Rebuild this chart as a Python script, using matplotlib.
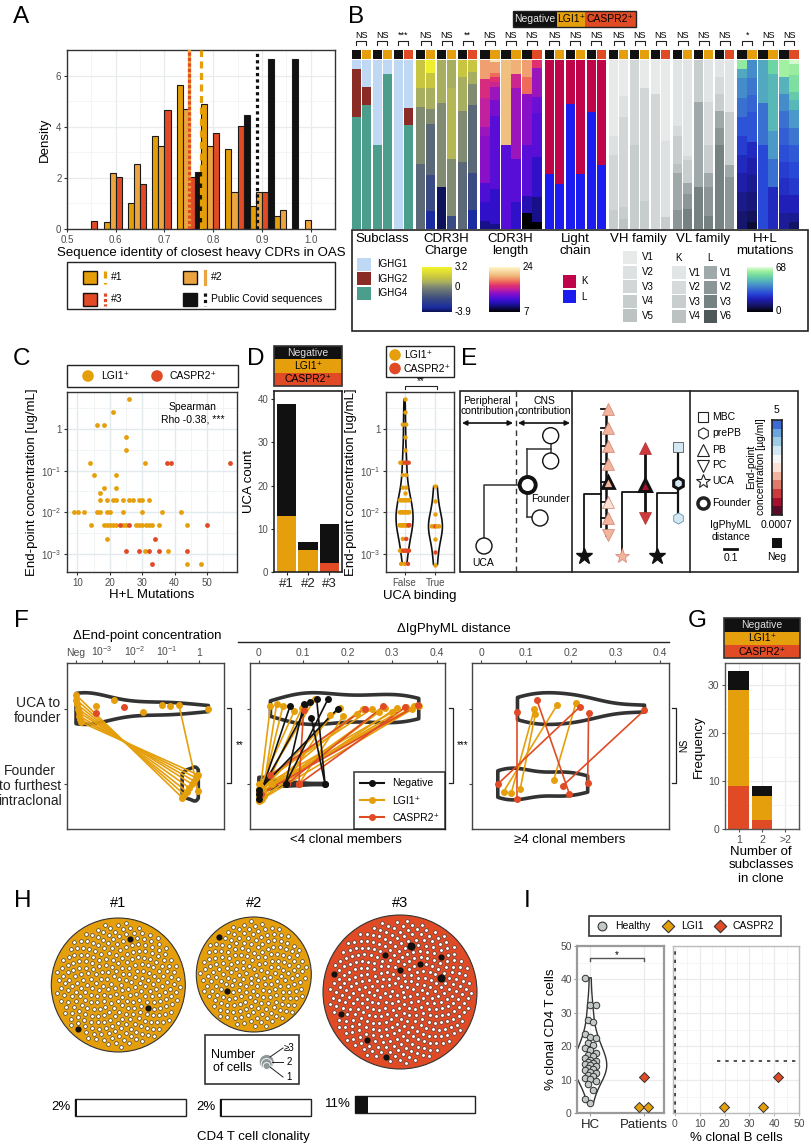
import numpy as np
import matplotlib
matplotlib.use('Agg')
import matplotlib.pyplot as plt
from matplotlib.patches import Rectangle, Circle
from matplotlib.colors import LinearSegmentedColormap, ListedColormap, Normalize
from matplotlib.lines import Line2D
from matplotlib.ticker import FixedLocator, NullFormatter

FONT = ['Liberation Sans', 'DejaVu Sans']
plt.rcParams['font.family'] = FONT
plt.rcParams['mathtext.fontset'] = 'custom'
plt.rcParams['mathtext.rm'] = 'Liberation Sans'
plt.rcParams['mathtext.it'] = 'Liberation Sans:italic'
plt.rcParams['mathtext.bf'] = 'Liberation Sans:bold'
plt.rcParams['axes.unicode_minus'] = False

# ======================= DATA =======================
# --- A: histogram densities (bins of width 0.05) ---
a_bins = [0.55, 0.60, 0.65, 0.70, 0.75, 0.80, 0.85, 0.90, 0.95, 1.00]
a_dens_p1 = [0, 0.27, 1.01, 3.64, 5.63, 4.88, 3.12, 0.88, 0.49, 0]
a_dens_p2 = [0, 2.18, 2.54, 3.25, 4.70, 3.25, 1.46, 1.46, 0.73, 0.36]
a_dens_p3 = [0.30, 2.02, 1.75, 4.64, 2.02, 3.76, 4.04, 1.46, 0, 0]
a_dens_cov = [0, 0, 0, 0, 2.23, 0, 4.44, 6.64, 6.64, 0]
a_median_p1 = 0.775
a_median_p2 = 0.751
a_median_p3 = 0.751
a_median_cov = 0.890
a_legend_labels = ['#1', '#2', '#3', 'Public Covid sequences']

# --- B: stacked proportions, each bar = list of (relative height, value) from top ---
b_titles = ['Subclass', 'CDR3H\nCharge', 'CDR3H\nlength', 'Light\nchain', 'VH family', 'VL family', 'H+L\nmutations']
b_stats = [['NS', 'NS', '***'], ['NS', 'NS', '**'], ['NS', 'NS', 'NS'], ['NS', 'NS', 'NS'],
           ['NS', 'NS', 'NS'], ['NS', 'NS', 'NS'], ['*', 'NS', 'NS']]
b_pair_groups = ['LGI1', 'LGI1', 'CASPR2']
b_subclass = [
    [(0.055, 'IGHG1'), (0.28, 'IGHG2'), (0.665, 'IGHG4')],
    [(0.16, 'IGHG1'), (0.105, 'IGHG2'), (0.735, 'IGHG4')],
    [(0.50, 'IGHG1'), (0.50, 'IGHG4')],
    [(0.083, 'IGHG1'), (0.917, 'IGHG4')],
    [(1.0, 'IGHG1')],
    [(0.286, 'IGHG1'), (0.099, 'IGHG2'), (0.615, 'IGHG4')],
]
b_charge = [
    [(85, 1.6), (57, 0.8), (170, 0.1), (195, -0.9)],
    [(38, 3.0), (47, 1.6), (62, 0.8), (45, 0.1), (153, -0.9), (107, -1.8), (55, -3.2)],
    [(128, 0.8), (254, 0.1), (125, -3.8)],
    [(85, 0.8), (213, 1.1), (170, 0.1), (39, -1.8)],
    [(52, 1.6), (100, 0.8), (153, 0.1), (202, -0.9)],
    [(35, 1.6), (38, 0.8), (62, 0.1), (205, -0.9), (110, -1.8), (57, -3.2)],
]
b_length = [
    [(57, 20), (58, 16.5), (85, 15.5), (28, 14.5), (140, 14), (57, 12), (58, 11), (24, 9.5)],
    [(7, 23), (31, 20), (14, 18.5), (13, 17), (15, 16), (40, 14.5), (47, 13.5), (220, 12.5), (105, 11), (15, 9.5)],
    [(255, 21), (252, 12.5)],
    [(43, 20.5), (42, 16), (213, 14.5), (127, 12.5), (82, 11)],
    [(52, 20), (50, 18.5), (153, 14), (153, 12.5), (50, 10.5), (49, 7)],
    [(25, 17), (85, 14.5), (48, 13), (132, 12.5), (122, 11), (73, 9.5), (22, 7)],
]
b_light = [
    [(0.672, 'K'), (0.328, 'L')], [(0.731, 'K'), (0.269, 'L')], [(0.259, 'K'), (0.741, 'L')],
    [(0.672, 'K'), (0.328, 'L')], [(0.308, 'K'), (0.692, 'L')], [(0.624, 'K'), (0.376, 'L')],
]
b_vh = [
    [(0.45, 'V1'), (0.11, 'V2'), (0.33, 'V3'), (0.11, 'V4')],
    [(0.213, 'V1'), (0.126, 'V2'), (0.53, 'V3'), (0.073, 'V4'), (0.058, 'V5')],
    [(0.50, 'V3'), (0.50, 'V4')],
    [(0.164, 'V1'), (0.67, 'V3'), (0.166, 'V4')],
    [(0.20, 'V1'), (0.80, 'V3')],
    [(0.48, 'V1'), (0.45, 'V2'), (0.07, 'V4')],
]
b_vl = [
    [(0.39, 'KV1'), (0.057, 'KV2'), (0.168, 'KV3'), (0.055, 'KV4'), (0.22, 'LV1'), (0.11, 'LV2')],
    [(0.57, 'KV1'), (0.024, 'KV2'), (0.134, 'KV3'), (0.067, 'LV1'), (0.087, 'LV2'), (0.12, 'LV3')],
    [(0.25, 'KV3'), (0.503, 'LV1'), (0.247, 'LV3')],
    [(0.25, 'KV1'), (0.25, 'KV2'), (0.17, 'KV3'), (0.083, 'LV1'), (0.17, 'LV2'), (0.077, 'LV3')],
    [(0.10, 'KV1'), (0.10, 'KV2'), (0.10, 'KV3'), (0.10, 'LV1'), (0.10, 'LV2'), (0.50, 'LV3')],
    [(0.31, 'KV1'), (0.31, 'KV3'), (0.073, 'LV1'), (0.306, 'LV2')],
]
b_mut = [
    [(28, 60), (27, 45), (60, 40), (55, 35), (57, 30), (58, 26), (55, 22), (55, 18), (57, 14), (55, 11)],
    [(55, 40), (50, 36), (50, 33), (90, 30), (50, 22), (50, 18), (50, 15), (57, 12), (33, 9), (22, 5)],
    [(128, 45), (127, 35), (252, 28)],
    [(42, 54), (170, 48), (86, 42), (84, 35), (125, 22)],
    [(50, 62), (52, 47), (50, 40), (53, 35), (50, 32), (50, 29), (50, 26), (50, 23), (53, 20), (49, 16)],
    [(12, 66), (33, 61), (50, 57), (25, 52), (30, 48), (55, 42), (50, 36), (50, 31), (50, 28), (50, 25), (53, 20), (27, 15), (22, 10)],
]
b_subclass_levels = ['IGHG1', 'IGHG2', 'IGHG4']
b_vh_levels = ['V1', 'V2', 'V3', 'V4', 'V5']
b_vl_k_levels = ['V1', 'V2', 'V3', 'V4']
b_vl_l_levels = ['V1', 'V2', 'V3', 'V6']

# --- C: H+L mutations vs end-point concentration ---
c_lgi_mut = [26.1, 21.0, 16.2, 18.1, 25.0, 25.0, 14.0, 31.0, 15.1, 22.0, 18.1, 22.0, 17.1,
             17.1, 19.1, 21.1, 22.0, 24.1, 26.0, 27.1, 29.0, 30.1, 32.0,
             9.1, 10.1, 12.2, 16.0, 17.1, 19.1, 20.1, 24.1, 30.1, 36.0, 42.0,
             14.1, 18.1, 19.1, 20.1, 21.1, 22.0, 24.1, 25.0, 28.1, 29.0, 30.1, 31.1, 32.0, 33.0, 35.1, 44.0,
             19.0, 31.0, 38.1, 44.0, 48.1]
c_lgi_conc = [5.2, 2.5, 1.27, 1.27, 0.63, 0.31, 0.155, 0.155, 0.078, 0.078, 0.039, 0.039, 0.029,
              0.0195, 0.0195, 0.0195, 0.0195, 0.0195, 0.0195, 0.0195, 0.0195, 0.0195, 0.0195,
              0.01, 0.01, 0.01, 0.01, 0.01, 0.01, 0.01, 0.01, 0.01, 0.01, 0.01,
              0.0049, 0.0049, 0.0049, 0.0049, 0.0049, 0.0049, 0.0049, 0.0049, 0.0049, 0.0049, 0.0049,
              0.0049, 0.0049, 0.0049, 0.0049, 0.0049,
              0.0023, 0.0012, 0.0012, 0.00058, 0.00058]
c_cas_mut = [37.8, 39.0, 57.0, 23.1, 26.0, 50.0, 34.0, 25.0, 29.0, 32.0, 35.1, 44.0, 33.0]
c_cas_conc = [0.155, 0.155, 0.155, 0.0049, 0.0049, 0.0049, 0.0023, 0.0012, 0.0012, 0.0012, 0.0012, 0.0012, 0.00058]
c_rho_text = 'Spearman\nRho -0.38, ***'

# --- D: UCA counts and UCA binding ---
d_groups = ['#1', '#2', '#3']
d_neg = [26, 2, 9]
d_lgi = [13, 5, 0]
d_cas = [0, 0, 2]
d_true_conc = [0.042, 0.019, 0.0091, 0.0046, 0.0046, 0.0046, 0.0046, 0.0046, 0.0023, 0.0011, 0.00055]
d_true_group = ['L', 'L', 'L', 'L', 'L', 'C', 'L', 'L', 'L', 'C', 'L']

# --- F: paired deltas ---
f1_lgi_top_x = [-3.80, -3.80, -3.78, -3.75, -3.72, -3.70, -3.68, -3.65, -0.62]
f1_lgi_top_y = [2.18, 2.12, 2.06, 2.00, 1.95, 1.90, 1.86, 1.82, 2.05]
f1_lgi_bot_x = [-0.52, -0.45, -0.38, -0.30, -0.22, -0.15, -0.08, -0.02, -0.03]
f1_lgi_bot_y = [0.82, 0.86, 0.90, 0.95, 1.00, 1.04, 1.08, 1.12, 0.91]
f1_lgi_solo_x = [-3.17, -2.62, -1.74, -1.15, -0.89, 0.29]
f1_lgi_solo_y = [2.03, 2.11, 1.95, 2.05, 2.04, 1.99]
f1_cas_solo_x = [-2.33, -3.17]
f1_cas_solo_y = [2.02, 1.94]

f2_neg_top_x = [0.070, 0.101, 0.115, 0.130, 0.156, 0.178, 0.118]
f2_neg_top_y = [2.03, 2.06, 2.09, 2.13, 2.13, 2.00, 1.88]
f2_neg_bot_x = [0.000, 0.060, 0.000, 0.149, 0.060, 0.000, 0.149]
f2_neg_bot_y = [0.80, 1.00, 0.87, 1.00, 1.00, 0.92, 1.00]
f2_lgi_top_x = [0.026, 0.054, 0.097, 0.126, 0.183, 0.234, 0.255, 0.283, 0.310, 0.332,
                0.350, 0.360, 0.300, 0.220, 0.160, 0.080, 0.040, 0.190, 0.270, 0.345]
f2_lgi_top_y = [2.03, 2.03, 2.01, 2.13, 2.01, 2.00, 2.00, 2.01, 2.01, 2.02,
                2.03, 2.04, 1.95, 1.93, 1.92, 1.97, 2.06, 1.90, 1.96, 1.99]
f2_lgi_bot_x = [0.000, 0.004, 0.008, 0.000, 0.010, 0.003, 0.000, 0.006, 0.012, 0.002,
                0.000, 0.030, 0.005, 0.000, 0.060, 0.000, 0.009, 0.090, 0.001, 0.004]
f2_lgi_bot_y = [0.78, 0.82, 0.86, 0.90, 0.94, 0.98, 1.00, 0.80, 0.84, 0.88,
                0.92, 1.00, 0.96, 0.85, 1.00, 0.93, 0.89, 1.00, 0.83, 0.79]
f2_cas_top_x = [0.101, 0.239, 0.280, 0.359, 0.330]
f2_cas_top_y = [1.98, 2.00, 2.03, 2.05, 2.02]
f2_cas_bot_x = [0.090, 0.026, 0.063, 0.004, 0.090]
f2_cas_bot_y = [1.00, 1.12, 1.00, 0.87, 1.00]

f3_lgi_top_x = [0.119, 0.121, 0.212, 0.170]
f3_lgi_top_y = [2.00, 1.93, 2.08, 2.05]
f3_lgi_bot_x = [0.067, 0.087, 0.162, 0.050]
f3_lgi_bot_y = [0.88, 0.93, 1.05, 0.90]
f3_cas_top_x = [0.124, 0.081, 0.220, 0.365, 0.240]
f3_cas_top_y = [2.12, 1.95, 2.02, 1.98, 1.94]
f3_cas_bot_x = [0.197, 0.081, 0.037, 0.183, 0.238]
f3_cas_bot_y = [0.87, 0.80, 1.00, 0.98, 1.02]
f_stats = ['**', '***', 'NS']

# --- G: subclasses per clone ---
g_cats = ['1', '2', '>2']
g_cas = [9, 2, 0]
g_lgi = [20, 5, 0]
g_neg = [4, 2, 0]

# --- H: CD4 T cell clonality ---
h_labels = ['#1', '#2', '#3']
h_singletons = [290, 215, 370]
h_expanded = [[2, 2, 2], [2, 2], [3, 2, 2, 2, 2, 3, 2, 2, 2, 2]]
h_clonality = [0.02, 0.02, 0.11]
h_pct_labels = ['2%', '2%', '11%']

# --- I: clonal CD4 T cells ---
i_hc = [40.5, 32.5, 32.3, 27.8, 27.2, 23.6, 22.7, 22.4, 21.0, 20.5, 19.6, 18.8, 18.0, 17.5, 17.0,
        16.6, 16.0, 15.6, 15.4, 15.0, 14.6, 14.3, 14.0, 13.6, 13.3, 12.8, 12.3, 12.0, 11.5, 11.0,
        10.6, 10.2, 9.6, 8.8, 7.0, 4.2, 3.2]
i_lgi_t = [1.8, 1.9]
i_cas_t = [10.8]
i_lgi_b = [19.8, 35.4]
i_cas_b = [41.6]
i_hc_median = 15.6

# ======================= COLOURS =======================
C_NEG = '#111111'
C_LGI = '#E69F0C'
C_CAS = '#E04B26'
C_P1 = '#E59E08'
C_P2 = '#EBA440'
subclass_colors = {'IGHG1': '#BFD8F4', 'IGHG2': '#8A2B25', 'IGHG4': '#4B9E8B'}
light_colors = {'K': '#C0044A', 'L': '#1C1CF0'}
vh_colors = {'V1': '#E8EAEA', 'V2': '#DEE1E1', 'V3': '#D2D6D6', 'V4': '#C7CCCC', 'V5': '#BDC2C2'}
vl_colors = {'KV1': '#E2E5E5', 'KV2': '#D6DADA', 'KV3': '#C8CDCD', 'KV4': '#BCC2C2',
             'LV1': '#A0A9A9', 'LV2': '#8C9696', 'LV3': '#768181', 'LV6': '#4E5858'}

def anchored_cmap(name, vmin, vmax, pairs):
    return LinearSegmentedColormap.from_list(name, [((v - vmin) / (vmax - vmin), c) for v, c in pairs])

charge_cmap = anchored_cmap('charge', -3.9, 3.2, [(-3.9, '#0A1050'), (-3.2, '#1A2CA0'), (-1.8, '#3A4A82'),
                                                   (-0.9, '#5A6878'), (0, '#7A8575'), (0.8, '#A8AE60'),
                                                   (1.6, '#C8C640'), (3.2, '#F5F52A')])
charge_norm = Normalize(-3.9, 3.2)
length_cmap = anchored_cmap('length', 7, 24, [(7, '#000000'), (9.5, '#18108A'), (11, '#3010C8'), (12.5, '#5A0ED8'),
                                              (14, '#8A10C8'), (15.5, '#C020A0'), (17, '#E03070'), (18.5, '#EE6A5A'),
                                              (20, '#F0A070'), (21, '#F0C080'), (24, '#FFF5C8')])
length_norm = Normalize(7, 24)
mut_cmap = anchored_cmap('mut', 0, 68, [(0, '#000000'), (7, '#10104A'), (14, '#1A1A8A'), (20, '#2020B8'),
                                       (28, '#2848D8'), (35, '#3A70D0'), (42, '#4A98C8'), (48, '#58B8B8'),
                                       (55, '#70D8A0'), (62, '#A0F0A0'), (68, '#E8FFE0')])
mut_norm = Normalize(0, 68)
e_colors = ['#5A0A28', '#A5102C', '#CC3A3E', '#E07A6A', '#F2B49C', '#FBE2D6', '#F7F7F7',
            '#D4E8F4', '#9CCCE6', '#6BA5DE', '#3E6AD4']

# ======================= FIGURE =======================
W, H = 812, 1146
fig = plt.figure(figsize=(W / 100, H / 100), dpi=100)

def axpx(x0, y0, x1, y1, **kw):
    return fig.add_axes([x0 / W, 1 - y1 / H, (x1 - x0) / W, (y1 - y0) / H], **kw)

ov = fig.add_axes([0, 0, 1, 1], zorder=10)
ov.set_xlim(0, W)
ov.set_ylim(H, 0)
ov.axis('off')
ov.patch.set_visible(False)

def T(x, y, s, **kw):
    kw.setdefault('ha', 'center')
    kw.setdefault('va', 'center')
    kw.setdefault('fontsize', 7.5)
    return ov.text(x, y, s, **kw)

def R(x, y, w, h, **kw):
    kw.setdefault('lw', 0)
    ov.add_patch(Rectangle((x, y), w, h, **kw))

def style(ax, sc='#333333', lw=1.0, ls=7, lc='#4D4D4D'):
    for sp in ax.spines.values():
        sp.set_color(sc)
        sp.set_linewidth(lw)
    ax.tick_params(labelsize=ls, colors=sc, labelcolor=lc, length=2.5, width=0.8, pad=1.5)
    ax.tick_params(which='minor', length=0)

for letter, x, y in [('A', 13, 23.3), ('B', 348, 23.3), ('C', 13, 365), ('D', 247, 365), ('E', 461, 365),
                     ('F', 14, 626.7), ('G', 688, 626.7), ('H', 14, 906.7), ('I', 524, 906.7)]:
    ov.text(x, y, letter, fontsize=17.5, ha='left', va='baseline')

# ======================= A =======================
axA = axpx(67, 50, 335, 229)
bins = np.array(a_bins)
w = 0.0125
for dens, col, off in [(a_dens_p1, C_P1, -1.5), (a_dens_p2, C_P2, -0.5),
                       (a_dens_p3, C_CAS, 0.5), (a_dens_cov, C_NEG, 1.5)]:
    d = np.array(dens, float)
    m = d > 0
    axA.bar(bins[m] + off * w, d[m], width=w, color=col, edgecolor='#1a1a1a', linewidth=0.8, zorder=2)
axA.axvline(a_median_p2, color=C_P2, lw=2.3, zorder=3)
axA.axvline(a_median_p3, color=C_CAS, lw=2.3, dashes=(1.0, 0.7), zorder=4)
axA.axvline(a_median_p1, color=C_P1, lw=2.3, dashes=(2.2, 1.4), zorder=4)
axA.axvline(a_median_cov, color=C_NEG, lw=2.3, dashes=(1.0, 1.0), zorder=4)
axA.set_xlim(0.5, 1.05)
axA.set_ylim(0, 7.0)
axA.set_xticks(np.round(np.arange(0.5, 1.01, 0.1), 1))
axA.set_xticklabels(['0.5', '0.6', '0.7', '0.8', '0.9', '1.0'])
axA.set_yticks([0, 2, 4, 6])
axA.xaxis.set_minor_locator(FixedLocator(np.arange(0.55, 1.05, 0.1)))
axA.yaxis.set_minor_locator(FixedLocator([1, 3, 5]))
axA.grid(True, which='major', color='#E8ECEC', lw=0.9)
axA.grid(True, which='minor', color='#F2F4F4', lw=0.6)
axA.set_axisbelow(True)
style(axA)
axA.set_xlabel('Sequence identity of closest heavy CDRs in OAS', fontsize=9.5, labelpad=2)
axA.set_ylabel('Density', fontsize=9.5, labelpad=4)

R(67, 262, 268, 47, fc='none', ec='#222222', lw=1.0)
for (sx, sy, col, lstyle, lab) in [(83, 271, C_P1, dict(dashes=(2.2, 1.4)), a_legend_labels[0]),
                                   (183, 271, C_P2, dict(), a_legend_labels[1]),
                                   (83, 293, C_CAS, dict(dashes=(1.0, 0.7)), a_legend_labels[2]),
                                   (183, 293, C_NEG, dict(dashes=(1.0, 1.0)), a_legend_labels[3])]:
    R(sx, sy, 14, 13, fc=col, ec='#111111', lw=1.0)
    ov.plot([sx + 22, sx + 22], [sy, sy + 13], color=col, lw=2.3, **lstyle)
    T(sx + 28, sy + 6.5, lab, ha='left', fontsize=7.5)

# ======================= B =======================
axB = axpx(351, 60, 800, 229)
axB.set_xlim(351, 800)
axB.set_ylim(1, 0)
axB.axis('off')

def b_left(g, k):
    p, b = divmod(k, 2)
    return 351.7 + g * 64.3 + p * 21 + b * 10

b_vars = [(b_subclass, lambda v: subclass_colors[v]),
          (b_charge, lambda v: charge_cmap(charge_norm(v))),
          (b_length, lambda v: length_cmap(length_norm(v))),
          (b_light, lambda v: light_colors[v]),
          (b_vh, lambda v: vh_colors[v]),
          (b_vl, lambda v: vl_colors[v]),
          (b_mut, lambda v: mut_cmap(mut_norm(v)))]
for g, (bars, colfn) in enumerate(b_vars):
    for k, segs in enumerate(bars):
        hgt = np.array([s[0] for s in segs], float)
        hgt = hgt / hgt.sum()
        bottoms = np.concatenate([[0], np.cumsum(hgt)[:-1]])
        cols = [colfn(s[1]) for s in segs]
        axB.bar([b_left(g, k)] * len(hgt), hgt, bottom=bottoms, width=9.3, align='edge',
                color=cols, linewidth=0)
    for p in range(3):
        l0, l1 = b_left(g, 2 * p), b_left(g, 2 * p + 1)
        R(l0, 49.5, 9.3, 9.3, fc=C_NEG)
        R(l1, 49.5, 9.3, 9.3, fc=C_LGI if b_pair_groups[p] == 'LGI1' else C_CAS)
        c0, c1 = l0 + 4.65, l1 + 4.65
        ov.plot([c0, c0, c1, c1], [44.5, 41, 41, 44.5], color='#222222', lw=0.8)
        T((c0 + c1) / 2, 35.5, b_stats[g][p], fontsize=6.5)

# header legend
R(513, 11, 44, 16, fc=C_NEG)
R(557, 11, 28, 16, fc=C_LGI)
R(585, 11, 51, 16, fc=C_CAS)
R(513, 11, 123, 16, fc='none', ec='#222222', lw=1.0)
T(535, 19, 'Negative', color='#E6E6E6', fontsize=7.5)
T(571, 19, 'LGI1⁺', fontsize=7.5)
T(610.5, 19, 'CASPR2⁺', fontsize=7.5)

# legend box
R(352, 229.5, 456, 101.5, fc='none', ec='#222222', lw=1.2)
for cx, title in zip([382, 446, 510, 575, 638, 703, 765], b_titles):
    T(cx, 233, title, va='top', fontsize=9.5, linespacing=1.05)
for i, lev in enumerate(b_subclass_levels):
    yc = 264 + i * 14.5
    R(357, yc - 6.5, 14, 13, fc=subclass_colors[lev])
    T(377, yc, lev, ha='left', fontsize=7)

def cbar(x0, y0, x1, y1, cmap):
    ax = axpx(x0, y0, x1, y1)
    ax.imshow(np.linspace(0, 1, 256)[:, None], aspect='auto', cmap=cmap, origin='lower', extent=[0, 1, 0, 1])
    ax.axis('off')
    return ax

cbar(422, 267, 452, 312, charge_cmap)
for v, lab in [(3.2, '3.2'), (0, '0'), (-3.9, '-3.9')]:
    T(455, 267 + (3.2 - v) / 7.1 * 45, lab, ha='left', fontsize=7)
cbar(489, 267, 520, 312, length_cmap)
T(523, 267, '24', ha='left', fontsize=7)
T(523, 312, '7', ha='left', fontsize=7)
for i, lev in enumerate(['K', 'L']):
    yc = 281.5 + i * 15
    R(563, yc - 6.5, 13, 13, fc=light_colors[lev])
    T(581, yc, lev, ha='left', fontsize=7)
for i, lev in enumerate(b_vh_levels):
    yc = 257.5 + i * 14.6
    R(623, yc - 6.5, 14, 13, fc=vh_colors[lev])
    T(642, yc, lev, ha='left', fontsize=7)
T(679, 258, 'K', fontsize=7)
T(710, 258, 'L', fontsize=7)
for i, lev in enumerate(b_vl_k_levels):
    yc = 272.5 + i * 14.6
    R(672, yc - 6.5, 14, 13, fc=vl_colors['K' + lev])
    T(689, yc, lev, ha='left', fontsize=7)
for i, lev in enumerate(b_vl_l_levels):
    yc = 272.5 + i * 14.6
    R(704, yc - 6.5, 13, 13, fc=vl_colors['L' + lev])
    T(720, yc, lev, ha='left', fontsize=7)
cbar(747, 267, 773, 312, mut_cmap)
T(776, 268, '68', ha='left', fontsize=7)
T(776, 311, '0', ha='left', fontsize=7)

# ======================= C =======================
axC = axpx(67, 392, 237, 572)
axC.scatter(c_lgi_mut, c_lgi_conc, s=12, color=C_LGI, lw=0, zorder=3)
axC.scatter(c_cas_mut, c_cas_conc, s=12, color=C_CAS, lw=0, zorder=3)
axC.set_yscale('log')
axC.set_ylim(3.7e-4, 7.7)
axC.set_xlim(6.8, 59.3)
axC.set_yticks([1e-3, 1e-2, 1e-1, 1])
axC.set_yticklabels(['10$^{-3}$', '10$^{-2}$', '10$^{-1}$', '1'])
axC.yaxis.set_minor_locator(FixedLocator([10 ** -3.5, 10 ** -2.5, 10 ** -1.5, 10 ** -0.5, 10 ** 0.5]))
axC.yaxis.set_minor_formatter(NullFormatter())
axC.set_xticks([10, 20, 30, 40, 50])
axC.xaxis.set_minor_locator(FixedLocator([15, 25, 35, 45, 55]))
axC.grid(True, which='major', color='#E2EAED', lw=1.0)
axC.grid(True, which='minor', color='#EDF2F4', lw=0.6)
axC.set_axisbelow(True)
style(axC)
axC.set_xlabel('H+L Mutations', fontsize=9.5, labelpad=1)
axC.set_ylabel('End-point concentration [ug/mL]', fontsize=9.5, labelpad=2)
T(193, 402, c_rho_text, fontsize=7.5, linespacing=1.25, va='top')
R(67, 365, 171, 22, fc='none', ec='#222222', lw=1.0)
ov.add_patch(Circle((88, 376), 5.8, fc=C_LGI, lw=0))
T(101, 376, 'LGI1⁺', ha='left')
ov.add_patch(Circle((157, 376), 5.8, fc=C_CAS, lw=0))
T(170, 376, 'CASPR2⁺', ha='left')

# ======================= D (left) =======================
axD = axpx(274, 391, 342, 572)
xd = np.arange(1, 4)
axD.bar(xd, d_cas, width=0.9, color=C_CAS)
axD.bar(xd, d_lgi, width=0.9, bottom=d_cas, color=C_LGI)
axD.bar(xd, d_neg, width=0.9, bottom=np.array(d_cas) + np.array(d_lgi), color=C_NEG)
axD.set_xlim(0.4, 3.6)
axD.set_ylim(0, 41.9)
axD.set_xticks(xd)
axD.set_xticklabels(d_groups, fontsize=9.5, color='#222222')
axD.set_yticks([0, 10, 20, 30, 40])
style(axD, sc='#222222', lw=1.2)
axD.tick_params(axis='x', labelsize=9.5, labelcolor='#222222')
axD.set_ylabel('UCA count', fontsize=9.5, labelpad=2)

def header_box(x, y, w):
    R(x, y, w, 13.3, fc=C_NEG)
    R(x, y + 13.3, w, 13.3, fc=C_LGI)
    R(x, y + 26.6, w, 13.4, fc=C_CAS)
    R(x, y, w, 40, fc='none', ec='#333333', lw=1.2)
    T(x + w / 2, y + 6.8, 'Negative', color='#DDDDDD', fontsize=7.5)
    T(x + w / 2, y + 20, 'LGI1⁺', fontsize=7.5)
    T(x + w / 2, y + 33.3, 'CASPR2⁺', fontsize=7.5)

header_box(274, 346, 68)

# ======================= D (right) =======================
axV = axpx(386, 392, 454, 572)
false_conc = np.array(c_lgi_conc + c_cas_conc)
false_grp = ['L'] * len(c_lgi_conc) + ['C'] * len(c_cas_conc)
vp = axV.violinplot([np.log10(false_conc), np.log10(d_true_conc)], positions=[1, 2],
                    widths=[0.55, 0.45], showextrema=False)
for b in vp['bodies']:
    b.set_facecolor('none')
    b.set_edgecolor('#111111')
    b.set_linewidth(1.2)
    b.set_alpha(1)

def dot_rows(ax, vals, grps, center, maxw):
    lv = np.round(np.log10(np.array(vals)), 3)
    for u in np.unique(lv):
        idx = [i for i in range(len(lv)) if lv[i] == u]
        n = len(idx)
        step = min(0.11, maxw / max(n, 1))
        xs = center + (np.arange(n) - (n - 1) / 2) * step
        cols = [C_LGI if grps[i] == 'L' else C_CAS for i in idx]
        ax.scatter(xs, [u] * n, s=10, c=cols, lw=0, zorder=3)

dot_rows(axV, false_conc, false_grp, 1, 0.34)
dot_rows(axV, d_true_conc, d_true_group, 2, 0.3)
axV.set_xlim(0.4, 2.6)
axV.set_ylim(np.log10(3.7e-4), np.log10(7.7))
axV.set_yticks([-3, -2, -1, 0])
axV.set_yticklabels(['10$^{-3}$', '10$^{-2}$', '10$^{-1}$', '1'])
axV.yaxis.set_minor_locator(FixedLocator([-3.5, -2.5, -1.5, -0.5, 0.5]))
axV.set_xticks([1, 2])
axV.set_xticklabels(['False', 'True'])
axV.xaxis.set_minor_locator(FixedLocator([1.5]))
axV.grid(True, which='major', color='#E2EAED', lw=1.0)
axV.grid(True, which='minor', color='#EDF2F4', lw=0.6)
axV.set_axisbelow(True)
style(axV)
axV.set_xlabel('UCA binding', fontsize=9.5, labelpad=2)
axV.set_ylabel('End-point concentration [ug/mL]', fontsize=9.5, labelpad=2)
ov.plot([405.5, 405.5, 436.6, 436.6], [389, 385.5, 385.5, 389], color='#222222', lw=0.8)
T(421, 381.5, '**', fontsize=7)
R(386, 346, 68, 31, fc='none', ec='#222222', lw=1.0)
ov.add_patch(Circle((395, 355), 5.8, fc=C_LGI, lw=0))
T(404, 355, 'LGI1⁺', ha='left')
ov.add_patch(Circle((395, 368.5), 5.8, fc=C_CAS, lw=0))
T(404, 368.5, 'CASPR2⁺', ha='left')

# ======================= E (schematic) =======================
R(460, 391, 338, 181, fc='none', ec='#222222', lw=1.2)
ov.plot([572, 572], [391, 572], color='#222222', lw=1.2)
ov.plot([690, 690], [391, 572], color='#222222', lw=1.2)
ov.plot([515.7, 515.7], [391, 572], color='#333333', lw=1.0, dashes=(4, 3))
T(487, 406, 'Peripheral\ncontribution', fontsize=7.5, linespacing=1.1)
T(544, 406, 'CNS\ncontribution', fontsize=7.5, linespacing=1.1)
ov.annotate('', xy=(462, 423), xytext=(513, 423),
            arrowprops=dict(arrowstyle='<|-|>', lw=1.2, color='#111111', mutation_scale=7, shrinkA=0, shrinkB=0))
ov.annotate('', xy=(518, 423), xytext=(570, 423),
            arrowprops=dict(arrowstyle='<|-|>', lw=1.2, color='#111111', mutation_scale=7, shrinkA=0, shrinkB=0))
lk = dict(color='#333333', lw=1.1, zorder=2)
ov.plot([484, 484, 527.7], [538, 485, 485], **lk)
ov.plot([527, 527], [449, 516.7], **lk)
ov.plot([527, 550.7, 550.7], [449, 449, 436], **lk)
ov.plot([550.7, 550.7], [449, 462], **lk)
ov.plot([527, 540], [516.7, 516.7], **lk)
for (cx, cy, lw_) in [(484, 546, 1.0), (527.7, 485, 2.8), (550.7, 435.7, 1.0), (550.7, 461, 1.0), (540, 518, 1.0)]:
    ov.add_patch(Circle((cx, cy), 8, fc='white', ec='#111111', lw=lw_, zorder=3))
T(550, 499, 'Founder', fontsize=7.5)
T(483, 563, 'UCA', fontsize=7.5)

tk = dict(color='#111111', lw=1.3, zorder=2)
ov.plot([584, 584, 601], [556, 494, 494], **tk)
ov.plot([601, 601], [432, 527], **tk)
ov.plot([606, 606], [409, 535], color='#111111', lw=1.8, zorder=2)
tri_y = [409, 428, 446, 464, 482, 502, 518]
tri_c = [e_colors[4], e_colors[4], e_colors[4], e_colors[4], e_colors[4], e_colors[5], e_colors[4]]
for yy, cc in zip(tri_y, tri_c):
    ov.plot([601, 606], [yy, yy], **tk)
    bold = (yy == 482)
    ov.plot(608, yy, marker='^', ms=8, mfc=cc, mec='#111111' if bold else '#D08070',
            mew=2.0 if bold else 0.5, zorder=4)
ov.plot(608, 535, marker='v', ms=8, mfc=e_colors[4], mec='#D08070', mew=0.5, zorder=4)
ov.plot(584, 556, marker='*', ms=12, color='#111111', zorder=4)
ov.plot([622, 622, 645], [556, 491.7, 491.7], **tk)
ov.plot([645, 645], [448, 518], color='#111111', lw=2.0, zorder=2)
ov.plot(645, 448, marker='^', ms=8, mfc=e_colors[2], mec='#B03030', mew=0.5, zorder=4)
ov.plot(645, 485, marker='^', ms=9, mfc=e_colors[1], mec='#111111', mew=2.2, zorder=4)
ov.plot(645, 518, marker='v', ms=8, mfc=e_colors[2], mec='#B03030', mew=0.5, zorder=4)
ov.plot(622, 556, marker='*', ms=11, mfc=e_colors[4], mec='#D08070', mew=0.5, zorder=4)
ov.plot([657, 657, 677.7], [556, 492.7, 492.7], **tk)
ov.plot([677.7, 677.7], [447, 518], color='#111111', lw=1.6, zorder=2)
ov.plot(677.7, 447, marker='s', ms=7, mfc=e_colors[7], mec='#555555', mew=0.6, zorder=4)
ov.plot(677.7, 483, marker='h', ms=8, mfc=e_colors[7], mec='#111111', mew=2.2, zorder=4)
ov.plot(677.7, 518, marker='h', ms=8, mfc=e_colors[7], mec='#6090B0', mew=0.6, zorder=4)
ov.plot(657, 556, marker='*', ms=12, color='#111111', zorder=4)

for mk, yy, lab, ms_, mew_ in [('s', 416.7, 'MBC', 7, 0.8), ('h', 433, 'prePB', 8, 0.8), ('^', 450, 'PB', 8, 0.8),
                              ('v', 465.5, 'PC', 8, 0.8), ('*', 481, 'UCA', 10, 0.8), ('o', 503, 'Founder', 8, 2.5)]:
    ov.plot(703, yy, marker=mk, ms=ms_, mfc='white', mec='#222222', mew=mew_, zorder=4)
    T(712, yy, lab, ha='left', fontsize=7.5)
T(731, 531, 'IgPhyML\ndistance', fontsize=7.5, linespacing=1.15)
ov.plot([724, 737], [549, 549], color='#111111', lw=2.0)
T(730.5, 558, '0.1', fontsize=7.5)
axE = axpx(771.7, 420, 781.7, 515)
axE.imshow(np.arange(len(e_colors))[:, None], aspect='auto', cmap=ListedColormap(e_colors),
           origin='lower', extent=[0, 1, 0, 1])
axE.set_xticks([])
axE.set_yticks([])
for sp in axE.spines.values():
    sp.set_linewidth(1.2)
    sp.set_color('#222222')
T(776.7, 410, '5', fontsize=7.5)
T(776.7, 525, '0.0007', fontsize=7.5)
T(751, 467, 'End-point', rotation=90, fontsize=7.5)
T(761, 467, 'concentration [µg/ml]', rotation=90, fontsize=7.5)
R(771.7, 538, 10, 10, fc=C_NEG)
T(776.7, 557, 'Neg', fontsize=7.5)

# ======================= F =======================
def fviolin(ax, data, pos, width):
    v = ax.violinplot([data], positions=[pos], widths=width, showextrema=False, orientation='horizontal')
    for b in v['bodies']:
        b.set_facecolor('none')
        b.set_edgecolor('#333333')
        b.set_linewidth(2.6)
        b.set_alpha(1)
        b.set_zorder(1)

def fpairs(ax, tx, ty, bx, by, col):
    for a, b_, c, d in zip(tx, ty, bx, by):
        ax.plot([a, c], [b_, d], color=col, lw=1.2, zorder=2)
    ax.plot(tx, ty, 'o', ms=4, color=col, zorder=3, lw=0)
    ax.plot(bx, by, 'o', ms=4, color=col, zorder=3, lw=0)

axF1 = axpx(67.3, 663.3, 224.2, 829.3)
axF2 = axpx(250, 663.3, 445.4, 829.3)
axF3 = axpx(472.3, 663.3, 669.1, 829.3)

fviolin(axF1, f1_lgi_top_x + f1_lgi_solo_x + f1_cas_solo_x, 2, 0.42)
fviolin(axF1, f1_lgi_bot_x, 1, 0.45)
fpairs(axF1, f1_lgi_top_x, f1_lgi_top_y, f1_lgi_bot_x, f1_lgi_bot_y, C_LGI)
axF1.plot(f1_lgi_solo_x, f1_lgi_solo_y, 'o', ms=4, color=C_LGI, zorder=3)
axF1.plot(f1_cas_solo_x, f1_cas_solo_y, 'o', ms=4, color=C_CAS, zorder=3)
axF1.set_xlim(-4.07, 0.78)
axF1.xaxis.tick_top()
axF1.set_xticks([-3.8, -3, -2, -1, 0])
axF1.set_xticklabels(['Neg', '10$^{-3}$', '10$^{-2}$', '10$^{-1}$', '1'])

fviolin(axF2, f2_neg_top_x + f2_lgi_top_x + f2_cas_top_x, 2, 0.42)
fviolin(axF2, f2_neg_bot_x + f2_lgi_bot_x + f2_cas_bot_x, 1, 0.18)
fpairs(axF2, f2_lgi_top_x, f2_lgi_top_y, f2_lgi_bot_x, f2_lgi_bot_y, C_LGI)
fpairs(axF2, f2_cas_top_x, f2_cas_top_y, f2_cas_bot_x, f2_cas_bot_y, C_CAS)
fpairs(axF2, f2_neg_top_x, f2_neg_top_y, f2_neg_bot_x, f2_neg_bot_y, C_NEG)
fviolin(axF3, f3_lgi_top_x + f3_cas_top_x, 2, 0.42)
fviolin(axF3, f3_lgi_bot_x + f3_cas_bot_x, 1, 0.42)
fpairs(axF3, f3_lgi_top_x, f3_lgi_top_y, f3_lgi_bot_x, f3_lgi_bot_y, C_LGI)
fpairs(axF3, f3_cas_top_x, f3_cas_top_y, f3_cas_bot_x, f3_cas_bot_y, C_CAS)
for ax in (axF2, axF3):
    ax.set_xlim(-0.02, 0.42)
    ax.xaxis.tick_top()
    ax.set_xticks([0, 0.1, 0.2, 0.3, 0.4])
    ax.set_xticklabels(['0', '0.1', '0.2', '0.3', '0.4'])
for ax in (axF1, axF2, axF3):
    ax.set_ylim(0.4, 2.6)
    ax.set_yticks([1, 2])
    style(ax, sc='#444444', lw=1.0, ls=7.5)
    ax.set_yticklabels([])
axF1.set_yticklabels(['Founder\nto furthest\nintraclonal', 'UCA to\nfounder'], fontsize=10,
                     multialignment='center', color='#222222', linespacing=1.1)
leg = axF2.legend(handles=[Line2D([], [], color=c, marker='o', ms=4, lw=1.5) for c in (C_NEG, C_LGI, C_CAS)],
                  labels=['Negative', 'LGI1⁺', 'CASPR2⁺'], loc='lower right', fontsize=7.5, frameon=True,
                  fancybox=False, edgecolor='#111111', borderaxespad=0, handlelength=2.3, borderpad=0.6,
                  labelspacing=0.7)
leg.get_frame().set_linewidth(1.2)
T(147.6, 636, 'ΔEnd-point concentration', fontsize=9.5)
T(454, 629, 'ΔIgPhyML distance', fontsize=9.5)
ov.plot([238, 669], [641.7, 641.7], color='#222222', lw=1.0)
for bx, tx_, st in [(231.5, 240, f_stats[0]), (453, 462.4, f_stats[1]), (675.8, 684.6, f_stats[2])]:
    ov.plot([bx - 4, bx, bx, bx - 4], [707.7, 707.7, 783.3, 783.3], color='#222222', lw=0.9)
    if st == 'NS':
        T(tx_, 745.5, st, fontsize=7, rotation=90)
    else:
        T(tx_, 745.5, st, fontsize=7)
T(346, 840, '<4 clonal members', fontsize=9.5)
T(569.6, 840, '≥4 clonal members', fontsize=9.5)

# ======================= G =======================
axG = axpx(725, 663.3, 799, 829.3)
xg = np.arange(1, 4)
axG.bar(xg, g_cas, width=0.9, color=C_CAS, zorder=2)
axG.bar(xg, g_lgi, width=0.9, bottom=g_cas, color=C_LGI, zorder=2)
axG.bar(xg, g_neg, width=0.9, bottom=np.array(g_cas) + np.array(g_lgi), color=C_NEG, zorder=2)
axG.set_xlim(0.4, 3.6)
axG.set_ylim(0, 34.6)
axG.set_xticks(xg)
axG.set_xticklabels(g_cats)
axG.set_yticks([0, 10, 20, 30])
axG.yaxis.set_minor_locator(FixedLocator([5, 15, 25]))
axG.grid(True, which='major', color='#EBEBEB', lw=0.9)
axG.grid(True, which='minor', color='#F3F3F3', lw=0.6)
axG.set_axisbelow(True)
style(axG, sc='#555555', lw=1.0, ls=7.5)
axG.set_ylabel('Frequency', fontsize=9.5, labelpad=2)
T(761, 865.5, 'Number of\nsubclasses\nin clone', fontsize=9.5, linespacing=1.2)
header_box(724, 618.3, 76)

# ======================= H =======================
h_geom = [(118.3, 985, 67), (253.8, 974.5, 57.5), (400, 992, 77)]
h_fill = [C_LGI, C_LGI, C_CAS]
golden = np.pi * (3 - np.sqrt(5))
for k, (cx, cy, Rr) in enumerate(h_geom):
    ov.add_patch(Circle((cx, cy), Rr, fc=h_fill[k], ec='#333333', lw=0.8, zorder=1))
    sizes = [1] * h_singletons[k] + list(h_expanded[k])
    n = len(sizes)
    i = np.arange(n)
    r = Rr * 0.93 * np.sqrt((i + 0.5) / n)
    th = i * golden
    xs = cx + r * np.cos(th)
    ys = cy + r * np.sin(th)
    m = len(h_expanded[k])
    slots = [int(n * ((j * 0.618 + 0.31) % 1.0) * 0.9 + n * 0.08) for j in range(m)]
    mask = np.ones(n, bool)
    mask[slots] = False
    ov.scatter(xs[mask], ys[mask], s=7, c='white', edgecolors='#333333', linewidths=0.45, zorder=2)
    for j, sl in enumerate(slots):
        ov.scatter([xs[sl]], [ys[sl]], s=20 if h_expanded[k][j] == 2 else 34, c='#111111', lw=0, zorder=3)
    T(cx, 902.7, h_labels[k], fontsize=10.5)
R(204.6, 1035, 94.7, 49.3, fc='white', ec='#333333', lw=1.2)
T(233, 1061.5, 'Number\nof cells', fontsize=9, linespacing=1.2)
for rr in (7.5, 5.5, 3.5):
    ov.add_patch(Circle((266.7, 1062 + (7.5 - rr)), rr, fc='#8F9898', ec='white', lw=0.6, zorder=12))
for (lx, ly, tx_, ty_, lab) in [(270, 1057, 285, 1048, '≥3'), (272, 1062, 285, 1062, '2'), (270, 1067, 285, 1077, '1')]:
    ov.plot([lx, tx_ - 2], [ly, ty_], color='#222222', lw=0.7, zorder=13)
    T(tx_ + 4, ty_, lab, fontsize=7)
bars_geom = [(75.1, 1098.7, 111.3, 17.3, 60.6), (220, 1098.7, 90.7, 17.3, 205.6), (354.7, 1096, 120.2, 16.7, 337.6)]
for k, (bx, by, bw, bh, lx) in enumerate(bars_geom):
    R(bx, by, bw, bh, fc='white', ec='#222222', lw=1.0)
    R(bx, by, bw * h_clonality[k], bh, fc='#111111')
    T(lx, by + bh / 2, h_pct_labels[k], fontsize=9.5)
T(253.8, 1136.7, 'CD4 T cell clonality', fontsize=9.5)

# ======================= I =======================
axI1 = axpx(577.4, 946, 664.4, 1113.3)
vI = axI1.violinplot([i_hc], positions=[1], widths=0.62, showextrema=False)
for b in vI['bodies']:
    b.set_facecolor('none')
    b.set_edgecolor('#333333')
    b.set_linewidth(1.0)
    b.set_alpha(1)
n_hc = len(i_hc)
jit = np.array([((k * 7) % 5 - 2) * 0.05 for k in range(n_hc)])
axI1.scatter(1 + jit, i_hc, s=22, c='#C3C9C9', edgecolors='#333333', linewidths=0.7, zorder=3)
axI1.scatter([1.92, 2.09], i_lgi_t, s=26, marker='D', c=C_LGI, edgecolors='#333333', linewidths=0.7, zorder=3)
axI1.scatter([2.0], i_cas_t, s=26, marker='D', c=C_CAS, edgecolors='#333333', linewidths=0.7, zorder=3)
axI1.set_xlim(0.76, 2.39)
axI1.set_ylim(0, 50)
axI1.set_xticks([1, 2])
axI1.set_xticklabels(['HC', 'Patients'], fontsize=9.5)
axI1.set_yticks([0, 10, 20, 30, 40, 50])
axI1.yaxis.set_minor_locator(FixedLocator([5, 15, 25, 35, 45]))
axI1.grid(True, which='major', color='#EBEBEB', lw=0.9)
axI1.grid(True, which='minor', color='#F4F4F4', lw=0.6)
axI1.set_axisbelow(True)
style(axI1, sc='#9A9A9A', lw=1.6, ls=7.5)
axI1.tick_params(axis='x', labelsize=9.5, labelcolor='#222222')
axI1.set_ylabel('% clonal CD4 T cells', fontsize=9.5, labelpad=2)
axI1.plot([1, 1, 2, 2], [45.5, 46.5, 46.5, 45.5], color='#555555', lw=1.0)
axI1.text(1.5, 47.3, '*', ha='center', va='center', fontsize=7)

axI2 = axpx(673.2, 946, 799, 1113.3)
axI2.scatter(i_lgi_b, i_lgi_t, s=26, marker='D', c=C_LGI, edgecolors='#333333', linewidths=0.7, zorder=3)
axI2.scatter(i_cas_b, i_cas_t, s=26, marker='D', c=C_CAS, edgecolors='#333333', linewidths=0.7, zorder=3)
axI2.axvline(0, color='#222222', lw=1.2, dashes=(2, 3))
axI2.plot([17, 50], [i_hc_median, i_hc_median], color='#333333', lw=1.2, dashes=(2, 3))
axI2.set_xlim(-0.7, 50)
axI2.set_ylim(0, 50)
axI2.set_xticks([0, 10, 20, 30, 40, 50])
axI2.xaxis.set_minor_locator(FixedLocator([5, 15, 25, 35, 45]))
axI2.set_yticks([0, 10, 20, 30, 40, 50])
axI2.yaxis.set_minor_locator(FixedLocator([5, 15, 25, 35, 45]))
axI2.grid(True, which='major', color='#EBEBEB', lw=0.9)
axI2.grid(True, which='minor', color='#F4F4F4', lw=0.6)
axI2.set_axisbelow(True)
style(axI2, sc='#BBBBBB', lw=1.0, ls=7.5)
axI2.tick_params(axis='y', length=0, labelleft=False)
axI2.set_xlabel('% clonal B cells', fontsize=9.5, labelpad=2)

R(588.8, 916, 192.2, 20, fc='white', ec='#333333', lw=1.2)
ov.scatter([602], [926], s=40, c='#C3C9C9', edgecolors='#333333', linewidths=0.8, zorder=12)
T(614.7, 926, 'Healthy', ha='left', fontsize=7.5)
ov.scatter([668], [926], s=40, marker='D', c=C_LGI, edgecolors='#333333', linewidths=0.8, zorder=12)
T(681, 926, 'LGI1', ha='left', fontsize=7.5)
ov.scatter([719.8], [926], s=40, marker='D', c=C_CAS, edgecolors='#333333', linewidths=0.8, zorder=12)
T(732.8, 926, 'CASPR2', ha='left', fontsize=7.5)

fig.savefig('out.png', dpi=100)
